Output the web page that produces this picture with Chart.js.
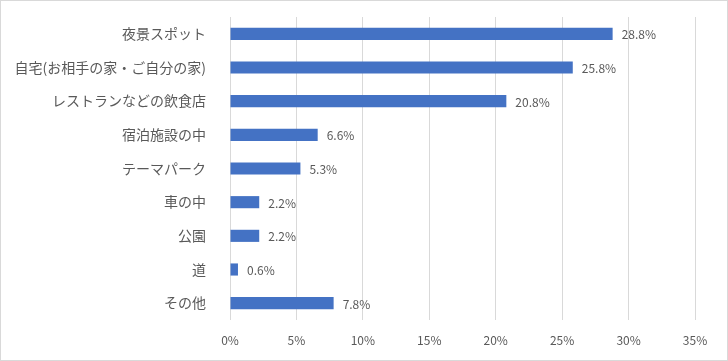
<!DOCTYPE html>
<html>
<head>
<meta charset="utf-8">
<script src="https://cdn.jsdelivr.net/npm/chart.js@4"></script>
<style>
  html, body { margin: 0; padding: 0; background: #fff; }
  #wrap { width: 728px; height: 361px; box-sizing: border-box; border: 1px solid #d9d9d9; }
  canvas { display: block; }
</style>
</head>
<body>
<div id="wrap"><canvas id="chart" width="726" height="359"></canvas></div>
<script>
const categories = ['夜景スポット', '自宅(お相手の家・ご自分の家)', 'レストランなどの飲食店', '宿泊施設の中', 'テーマパーク', '車の中', '公園', '道', 'その他'];
const values = [28.8, 25.8, 20.8, 6.6, 5.3, 2.2, 2.2, 0.6, 7.8];
const xTicks = [0, 5, 10, 15, 20, 25, 30, 35];

const fontFamily = '"Noto Sans CJK JP", "Noto Sans", sans-serif';
const textColor = '#595959';

// draw value labels at the end of each bar
const valueLabels = {
    id: 'valueLabels',
    afterDatasetsDraw(chart) {
        const c = chart.ctx;
        const meta = chart.getDatasetMeta(0);
        c.save();
        c.font = '12px ' + fontFamily;
        c.fillStyle = textColor;
        c.textAlign = 'left';
        c.textBaseline = 'middle';
        meta.data.forEach((bar, i) => {
            c.fillText(values[i].toFixed(1) + '%', bar.x + 9, bar.y + 1);
        });
        c.restore();
    }
};

new Chart(document.getElementById('chart'), {
    type: 'bar',
    data: {
        labels: categories,
        datasets: [{
            data: values,
            backgroundColor: '#4472C4',
            categoryPercentage: 1,
            barPercentage: 0.36
        }]
    },
    options: {
        indexAxis: 'y',
        responsive: false,
        animation: false,
        layout: { padding: { top: 16, right: 32, left: 0, bottom: 0 } },
        plugins: {
            legend: { display: false },
            tooltip: { enabled: false }
        },
        scales: {
            x: {
                min: 0,
                max: 35,
                afterBuildTicks: (scale) => { scale.ticks = xTicks.map(v => ({ value: v })); },
                afterFit: (scale) => {
                    scale.height = 40;
                    scale.paddingLeft = 0;
                    scale.paddingRight = 0;
                },
                grid: { color: '#d9d9d9', drawTicks: false },
                border: { display: false },
                ticks: {
                    padding: 13,
                    color: textColor,
                    font: { family: fontFamily, size: 12 },
                    callback: (v) => v + '%'
                }
            },
            y: {
                afterFit: (scale) => {
                    scale.width = 229;
                    scale.paddingTop = 0;
                    scale.paddingBottom = 0;
                },
                grid: { display: false },
                border: { display: false },
                ticks: {
                    padding: 16,
                    color: textColor,
                    font: { family: fontFamily, size: 14 }
                }
            }
        }
    },
    plugins: [valueLabels]
});
</script>
</body>
</html>
